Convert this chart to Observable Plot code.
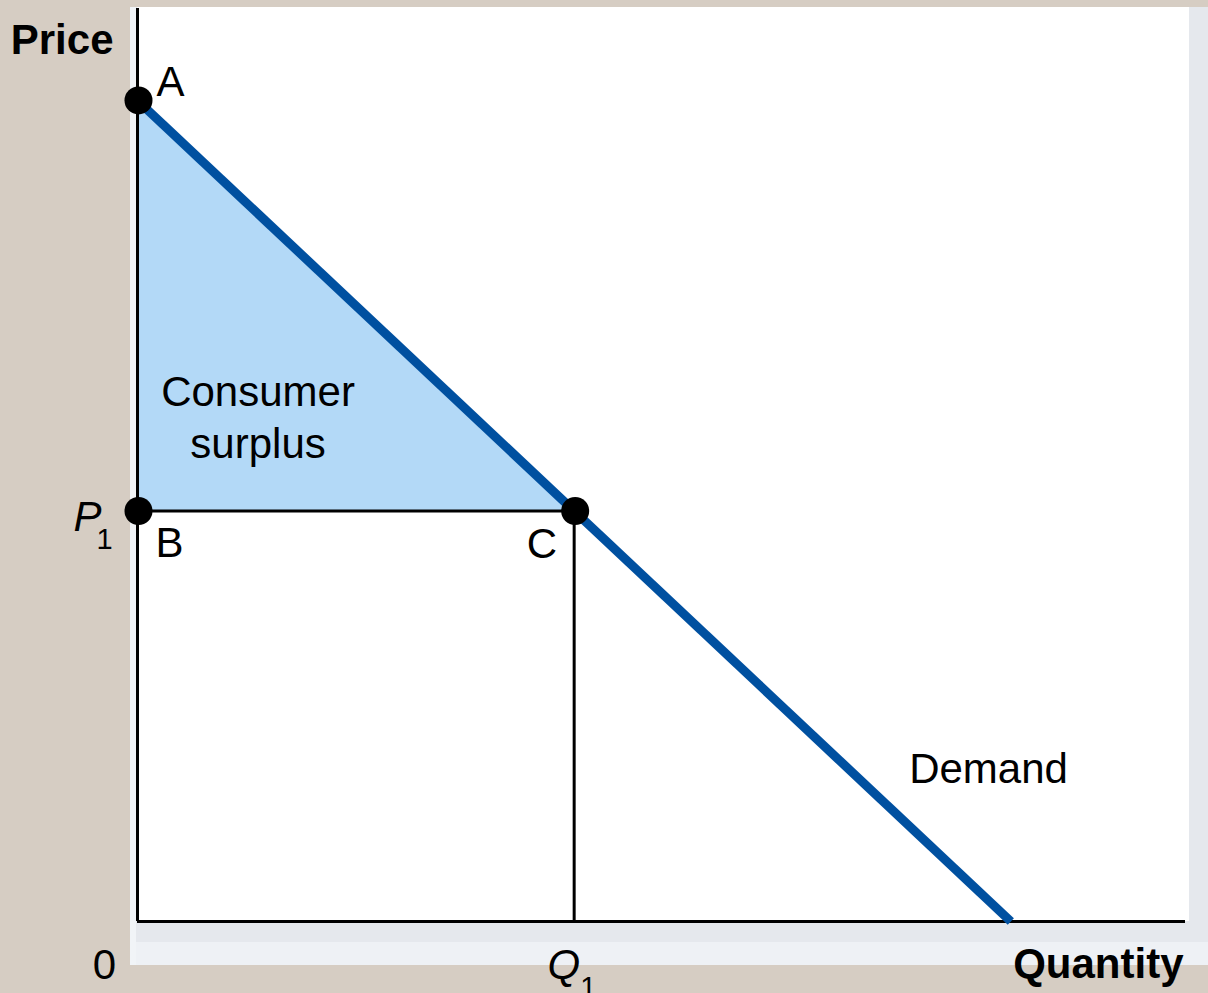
<!DOCTYPE html>
<html><head><meta charset="utf-8">
<script src="https://cdn.jsdelivr.net/npm/d3@7"></script>
<script src="https://cdn.jsdelivr.net/npm/@observablehq/plot@0.6"></script>
<style>
html,body{margin:0;padding:0;background:#d6cdc3;width:1208px;height:993px;overflow:hidden;font-family:"Liberation Sans",Arial,sans-serif}
#panel{position:absolute;left:130px;top:7px;width:1078px;height:958px;background:#e5e8ed;}
#strip{position:absolute;left:130px;top:7px;width:6px;height:958px;background:#f1f4f7;}
#band{position:absolute;left:130px;top:942px;width:1078px;height:23px;background:#eef1f5}
#inner{position:absolute;left:137px;top:7px;width:1052px;height:914px;background:#fff;}
#chart{position:absolute;left:0;top:0}
</style></head><body>
<div id="panel"></div><div id="band"></div><div id="strip"></div><div id="inner"></div>
<div id="chart"></div>
<script>
// ---- data ----
const demandQ = [0, 10];
const demandP = [10, 0];
const surplusQ = [0, 5];
const surplusP = [10, 5];
const P1 = 5;
const Q1 = 5;
const pointNames = ["A", "B", "C"];
const pointQ = [0, 0, 5];
const pointP = [10, 5, 5];
const labelConsumer = ["Consumer", "surplus"];
const labelDemandAt = {q: 8, p: 2};
const xMax = 12;
const yMax = 11.12;

const demand = demandQ.map((q, i) => ({q, p: demandP[i]}));
const surplus = surplusQ.map((q, i) => ({q, p: surplusP[i]}));
const points = pointNames.map((name, i) => ({name, q: pointQ[i], p: pointP[i]}));
const centroid = {q: d3.mean([0, 0, Q1]), p: d3.mean([10, P1, P1])};

const font = {fontFamily: "Liberation Sans, Arial, sans-serif", fill: "black"};
const FS = 42, SUB = 29;

const chart = Plot.plot({
  width: 1208,
  height: 993,
  marginLeft: 137,
  marginRight: 23,
  marginTop: 8,
  marginBottom: 72,
  style: {background: "transparent", overflow: "visible"},
  x: {domain: [0, xMax], axis: null},
  y: {domain: [0, yMax], axis: null},
  marks: [
    Plot.areaY(surplus, {x: "q", y1: P1, y2: "p", fill: "#b3d9f7"}),
    Plot.ruleY([P1], {x1: 0, x2: Q1, stroke: "black", strokeWidth: 3}),
    Plot.ruleX([Q1], {y1: 0, y2: P1, stroke: "black", strokeWidth: 3}),
    Plot.ruleX([0], {stroke: "black", strokeWidth: 3}),
    Plot.ruleY([0], {stroke: "black", strokeWidth: 3}),
    Plot.line(demand, {x: "q", y: "p", stroke: "#0050a0", strokeWidth: 9, strokeLinecap: "butt"}),
    Plot.dot(points, {x: "q", y: "p", r: 14, fill: "black", dx: 1}),
    // point labels
    Plot.text([points[0]], {x: "q", y: "p", text: "name", textAnchor: "start", lineAnchor: "bottom", dx: 19, dy: -4, fontSize: FS, ...font}),
    Plot.text([points[1]], {x: "q", y: "p", text: "name", textAnchor: "start", lineAnchor: "bottom", dx: 18, dy: 46, fontSize: FS, ...font}),
    Plot.text([points[2]], {x: "q", y: "p", text: "name", textAnchor: "end", lineAnchor: "bottom", dx: -17, dy: 47, fontSize: FS, ...font}),
    // consumer surplus
    Plot.text([centroid], {x: "q", y: "p", text: () => labelConsumer[0], textAnchor: "middle", lineAnchor: "bottom", dx: -25, dy: 32, fontSize: FS, ...font}),
    Plot.text([centroid], {x: "q", y: "p", text: () => labelConsumer[1], textAnchor: "middle", lineAnchor: "bottom", dx: -25, dy: 84, fontSize: FS, ...font}),
    // demand label
    Plot.text([labelDemandAt], {x: "q", y: "p", text: () => "Demand", textAnchor: "start", lineAnchor: "bottom", dx: 73, dy: 26, fontSize: FS, ...font}),
    // P1
    Plot.text([{q: 0, p: P1}], {x: "q", y: "p", text: () => "P", textAnchor: "end", lineAnchor: "bottom", dx: -36, dy: 20, fontSize: FS, fontStyle: "italic", ...font}),
    Plot.text([{q: 0, p: P1}], {x: "q", y: "p", text: () => "1", textAnchor: "start", lineAnchor: "bottom", dx: -41, dy: 38, fontSize: SUB, ...font}),
    // Q1
    Plot.text([{q: Q1, p: 0}], {x: "q", y: "p", text: () => "Q", textAnchor: "end", lineAnchor: "bottom", dx: 6, dy: 57, fontSize: FS, fontStyle: "italic", ...font}),
    Plot.text([{q: Q1, p: 0}], {x: "q", y: "p", text: () => "1", textAnchor: "start", lineAnchor: "bottom", dx: 6, dy: 75, fontSize: SUB, ...font}),
    // origin
    Plot.text([{q: 0, p: 0}], {x: "q", y: "p", text: () => "0", textAnchor: "middle", lineAnchor: "bottom", dx: -33, dy: 57, fontSize: FS, ...font}),
    // axis titles
    Plot.text(["Price"], {frameAnchor: "top-left", text: d => d, textAnchor: "end", lineAnchor: "bottom", dx: -24, dy: 45, fontSize: FS, fontWeight: "bold", ...font}),
    Plot.text(["Quantity"], {frameAnchor: "bottom-right", text: d => d, textAnchor: "end", lineAnchor: "bottom", dx: -2, dy: 56, fontSize: FS, fontWeight: "bold", ...font})
  ]
});
document.getElementById("chart").appendChild(chart);
</script>
</body></html>
